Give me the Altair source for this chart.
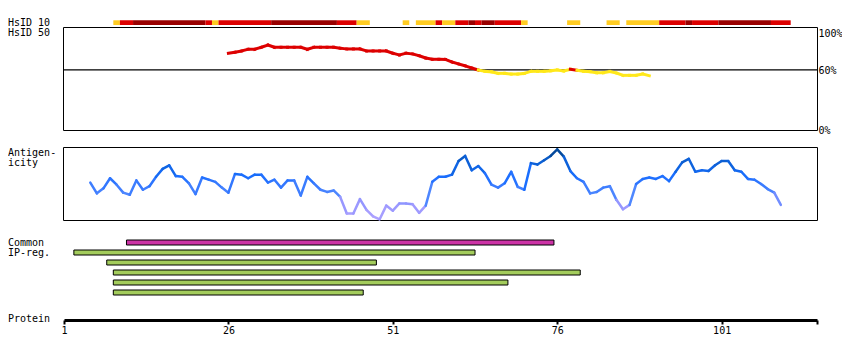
import altair as alt
import pandas as pd

# ---------------- data ----------------
protein_end = 115.5
axis_ticks = [1, 26, 51, 76, 101]

# HsID 10 identity segments (residue ranges) and their level
hsid10_start = [9, 10, 12, 23, 24, 25, 33, 43, 46, 53, 55, 58, 59, 61, 63, 64, 65, 67, 71, 78, 84, 87, 92, 96, 97, 101, 109]
hsid10_end = [9, 11, 22, 23, 24, 32, 42, 45, 47, 53, 57, 58, 60, 62, 63, 64, 66, 70, 71, 79, 85, 91, 95, 96, 100, 108, 111]
hsid10_level = ["low", "mid", "high", "mid", "low", "mid", "high", "mid", "low", "low", "low", "mid", "low",
                "mid", "high", "mid", "high", "mid", "low", "low", "low", "low", "mid", "high", "mid", "high", "mid"]

# HsID 50 identity (%) per residue
hsid50_pos = list(range(26, 91))
hsid50_pct = [76.5, 77.5, 78.8, 80.5, 80.5, 82.5, 84.7, 82.5, 82.5, 82.5, 82.5, 82.5, 80.5, 82.5, 82.5, 82.5,
              82.5, 81.5, 80.8, 80.8, 80.8, 78.8, 78.8, 78.8, 78.8, 76.5, 74.8, 76.5, 75.8, 74.0, 71.8, 70.5,
              70.5, 70.3, 67.8, 65.8, 64.0, 61.8, 59.8, 58.5, 58.0, 56.5, 56.5, 55.8, 55.8, 56.5, 58.5, 58.5,
              58.5, 59.0, 59.8, 58.8, 60.5, 59.5, 58.5, 58.1, 57.1, 57.1, 58.3, 56.8, 54.5, 54.5, 54.5, 55.8, 54.1]
pct_labels = [100, 60, 0]

# Antigenicity score per residue
antigen_pos = list(range(5, 111))
antigen_score = [0.52, 0.37, 0.44, 0.58, 0.49, 0.38, 0.35, 0.55, 0.42, 0.47, 0.60, 0.71, 0.76, 0.61, 0.60, 0.51,
                 0.36, 0.59, 0.56, 0.53, 0.45, 0.38, 0.64, 0.63, 0.58, 0.63, 0.63, 0.52, 0.56, 0.45, 0.55, 0.55,
                 0.34, 0.60, 0.51, 0.42, 0.39, 0.41, 0.32, 0.09, 0.09, 0.29, 0.14, 0.05, 0.01, 0.20, 0.13, 0.23,
                 0.23, 0.22, 0.10, 0.20, 0.53, 0.60, 0.60, 0.63, 0.82, 0.89, 0.69, 0.75, 0.65, 0.49, 0.45, 0.51,
                 0.67, 0.46, 0.42, 0.79, 0.77, 0.83, 0.89, 0.98, 0.88, 0.68, 0.58, 0.53, 0.37, 0.39, 0.45, 0.47,
                 0.28, 0.15, 0.21, 0.50, 0.57, 0.59, 0.57, 0.61, 0.54, 0.67, 0.80, 0.85, 0.67, 0.69, 0.68, 0.76,
                 0.82, 0.82, 0.69, 0.67, 0.57, 0.56, 0.50, 0.43, 0.38, 0.21]

# Common / IP regions (residue ranges)
ip_row = [0, 1, 2, 3, 4, 5]
ip_start = [11, 3, 8, 9, 9, 9]
ip_end = [75, 63, 48, 79, 68, 46]
ip_kind = ["common", "region", "region", "region", "region", "region"]

side_labels = ["HsID 10", "HsID 50", "Antigen-", "icity", "Common", "IP-reg.", "Protein"]

# ---------------- tables ----------------
h10 = pd.DataFrame({"s": [v - 0.5 for v in hsid10_start], "e": [v + 0.5 for v in hsid10_end], "level": hsid10_level})
h50 = pd.DataFrame({
    "p1": hsid50_pos[:-1], "p2": hsid50_pos[1:],
    "v1": hsid50_pct[:-1], "v2": hsid50_pct[1:],
})
h50["cls"] = ["above" if v >= 60 else "below" for v in h50["v1"]]
ag = pd.DataFrame({
    "p1": antigen_pos[:-1], "p2": antigen_pos[1:],
    "v1": antigen_score[:-1], "v2": antigen_score[1:],
})
ag["mid"] = (ag["v1"] + ag["v2"]) / 2
ip = pd.DataFrame({"row": ip_row, "s": [v - 0.5 for v in ip_start], "e": [v + 0.5 for v in ip_end], "kind": ip_kind})
pl = pd.DataFrame({"pct": pct_labels, "txt": [f"{v}%" for v in pct_labels]})
one = pd.DataFrame({"k": [0]})

# ---------------- layout / style ----------------
W, H = 753, 312
FONT = "DejaVu Sans Mono"
XS = alt.Scale(domain=[1, protein_end], nice=False, zero=False)
XAX = alt.Axis(values=axis_ticks + [protein_end], labelExpr="datum.value > 110 ? '' : datum.label",
               title=None, grid=False, domainColor="black", domainWidth=3, tickColor="black", tickWidth=2,
               tickSize=4, labelFont=FONT, labelFontSize=10, labelColor="black", labelPadding=1,
               labelFlush=False, labelOverlap=False, format="d")
PCT_Y = alt.Scale(domain=[0, 100], range=[122, 21.7], nice=False, zero=False)
AG_Y = alt.Scale(domain=[0, 1], range=[212, 140], nice=False, zero=False)
label_y = [14.7, 25, 145.3, 155.3, 235.3, 245.3, 311.3]

def X(field):
    return alt.X(field, type="quantitative", scale=XS, axis=XAX)

layers = []

# HsID 10 bar
layers.append(alt.Chart(h10).mark_rect().encode(
    x=X("s"), x2="e", y=alt.value(12.3), y2=alt.value(17),
    color=alt.Color("level:N", scale=alt.Scale(domain=["low", "mid", "high"],
                                                range=["#ffcc22", "#dd0000", "#990000"]), legend=None)))

# HsID 50 frame, 60% rule, line, labels
layers.append(alt.Chart(one).mark_rect(fill=None, stroke="black", strokeWidth=1).encode(
    x=alt.value(-0.5), x2=alt.value(W + 0.5), y=alt.value(19.5), y2=alt.value(122.5)))
layers.append(alt.Chart(one).mark_rule(color="black", strokeWidth=1.3).encode(
    x=alt.value(0), x2=alt.value(W), y=alt.Y(datum=60, type="quantitative", scale=PCT_Y, axis=None)))
layers.append(alt.Chart(h50).mark_rule(strokeWidth=3, strokeCap="square").encode(
    x=X("p1"), x2="p2",
    y=alt.Y("v1:Q", scale=PCT_Y, axis=None), y2="v2",
    color=alt.Color("cls:N", scale=alt.Scale(domain=["above", "below"], range=["#dd0000", "#ffe81a"]),
                    legend=None)))
layers.append(alt.Chart(pl[pl["pct"] < 100]).mark_text(align="left", baseline="middle", font=FONT,
                                                        fontSize=10, color="black", dy=1).encode(
    x=alt.value(W + 1.5), y=alt.Y("pct:Q", scale=PCT_Y, axis=None), text="txt:N"))
layers.append(alt.Chart(pl[pl["pct"] == 100]).mark_text(align="left", baseline="middle", font=FONT,
                                                         fontSize=10, color="black", dy=4).encode(
    x=alt.value(W + 1.5), y=alt.Y("pct:Q", scale=PCT_Y, axis=None), text="txt:N"))

# Antigenicity frame and line
layers.append(alt.Chart(one).mark_rect(fill=None, stroke="black", strokeWidth=1).encode(
    x=alt.value(-0.5), x2=alt.value(W + 0.5), y=alt.value(139.5), y2=alt.value(212.5)))
layers.append(alt.Chart(ag).mark_rule(strokeWidth=2.5, strokeCap="round").encode(
    x=X("p1"), x2="p2",
    y=alt.Y("v1:Q", scale=AG_Y, axis=None), y2="v2",
    color=alt.Color("mid:Q", scale=alt.Scale(domain=[0, 0.2, 0.35, 0.6, 0.85, 1.0],
                                             range=["#b0a4ff", "#9a98ff", "#4f88ff", "#1a6eff",
                                                    "#0b5ccc", "#083a78"]), legend=None)))

# Common / IP-reg bars
layers.append(alt.Chart(ip).mark_rect(stroke="black", strokeWidth=1).encode(
    x=X("s"), x2="e",
    y=alt.Y("row:O", scale=alt.Scale(range=[229.5, 289.5], paddingInner=0.5, paddingOuter=0.25), axis=None),
    color=alt.Color("kind:N", scale=alt.Scale(domain=["common", "region"], range=["#cc33a6", "#a3cc5c"]),
                    legend=None)))

# side labels
for txt, yy in zip(side_labels, label_y):
    layers.append(alt.Chart(one).mark_text(text=txt, align="left", baseline="middle", font=FONT,
                                           fontSize=10, color="black").encode(
        x=alt.value(-56), y=alt.value(yy)))

chart = alt.layer(*layers).resolve_scale(y="independent", color="independent").properties(
    width=W, height=H,
    padding={"left": 56, "top": 0, "right": 25, "bottom": 20},
    autosize=alt.AutoSizeParams(type="none"),
    background="white",
).configure_view(stroke=None)

chart.save("out.html", embed_options={"renderer": "svg", "actions": False})
